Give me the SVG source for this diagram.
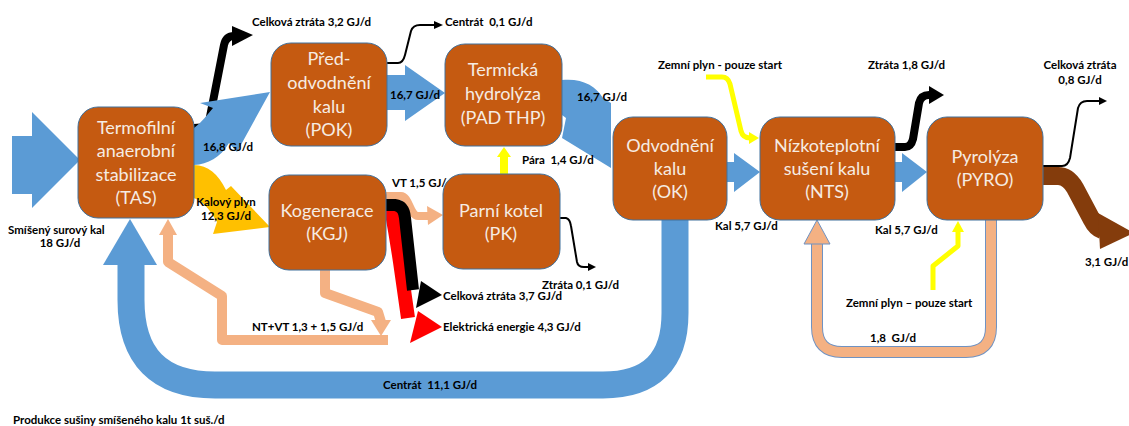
<svg xmlns="http://www.w3.org/2000/svg" width="1129" height="426" viewBox="0 0 1129 426">
<style>
.box{fill:#C55A11;stroke:#41719C;stroke-width:1}
.nt{font-family:Lato,"Liberation Sans",sans-serif;font-size:18px;fill:#F6ECE3;text-anchor:middle}
.lb{font-family:Lato,"Liberation Sans",sans-serif;font-size:11.5px;font-weight:bold;fill:#000}
.mid{text-anchor:middle}
.blue{fill:#5B9BD5}
.salm{fill:none;stroke:#F4B183;stroke-linejoin:round}
.salmf{fill:#F4B183}
.blk{fill:none;stroke:#000;stroke-linejoin:round}
.yel{fill:none;stroke:#FFFF00;stroke-width:5;stroke-linejoin:round}
.yelf{fill:#FFFF00}
</style>
<rect width="1129" height="426" fill="#fff"/>
<g id="connectors">
  <!-- input -->
  <polygon class="blue" points="12,136 32,136 32,112 80,160 32,208 32,194 12,194"/>
  <text class="lb" x="8" y="234">Smíšený surový kal</text>
  <text class="lb mid" x="60" y="247">18 GJ/d</text>

  <!-- TAS loss black -->
  <path class="blk" stroke-width="8" d="M194,128 L208,127 L224,45 Q226,36 234,36"/>
  <polygon points="232,26 253,35 232,46" fill="#000"/>
  <text class="lb" x="252" y="26">Celková ztráta 3,2 GJ/d</text>

  <!-- TAS -> POK -->
  <path class="blue" d="M194,128 C202,122 208,114 213,108 L200,103 L270,92 L237,152 L229,143 C220,158 208,164 194,165 Z"/>
  <text class="lb" x="203" y="151">16,8 GJ/d</text>

  <!-- TAS -> KGJ kalový plyn -->
  <path fill="#FFC000" d="M194,165 C208,165 218,174 226,190 L231,186 L270,227 L213,234 L217,222 C210,210 204,202 194,198 Z"/>
  <text class="lb mid" x="226" y="206">Kalový plyn</text>
  <text class="lb mid" x="226" y="220">12,3 GJ/d</text>

  <!-- POK centrat thin -->
  <path class="blk" stroke-width="2" d="M387,63 L398,63 Q403,63 405,55 L411,31 Q413,25 420,25 L436,25"/>
  <polygon points="434,21 443,25 434,29" fill="#000"/>
  <text class="lb" x="445" y="26" xml:space="preserve">Centrát  0,1 GJ/d</text>

  <!-- POK -> THP -->
  <polygon class="blue" points="387,75 405,75 405,65 445,93 405,121 405,110 387,110"/>
  <text class="lb" x="390" y="99">16,7 GJ/d</text>

  <!-- THP -> OK -->
  <path class="blue" d="M562,80 C582,78 596,86 603,98 L611,103 L611,168 L562,138 L566,118 L562,115 Z"/>
  <text class="lb" x="577" y="101">16,7 GJ/d</text>

  <!-- PK -> THP steam -->
  <rect class="yelf" x="500" y="156" width="8" height="18"/>
  <polygon class="yelf" points="497,157 511,157 504,147"/>
  <text class="lb" x="522" y="164" xml:space="preserve">Pára  1,4 GJ/d</text>

  <!-- KGJ -> PK VT -->
  <text class="lb" x="392" y="187">VT 1,5 GJ/d</text>
  <path class="salm" stroke-width="8" d="M386,196 L401,196 C409,196 410,216 418,216 L428,216"/>
  <polygon class="salmf" points="427,206 443,215 428,225"/>

  <!-- KGJ electric red -->
  <path fill="none" stroke="#FF0000" stroke-width="14" d="M391,208 Q396,235 400,262 L408,318"/>
  <polygon points="418,311 442,327 410,343" fill="#FF0000"/>
  <text class="lb" x="443" y="331">Elektrická energie 4,3 GJ/d</text>

  <!-- KGJ loss black -->
  <path class="blk" stroke-width="12" d="M386,205 L395,205 Q404,206 405,218 L413,290"/>
  <polygon points="421,281 442,295 416,308" fill="#000"/>
  <text class="lb" x="443" y="300">Celková ztráta 3,7 GJ/d</text>

  <!-- PK loss thin -->
  <path class="blk" stroke-width="2" d="M560,218 L566,218 Q570,219 571,226 L577,262 Q578,267 584,267 L589,267"/>
  <polygon points="588,263 596,267 588,271" fill="#000"/>
  <text class="lb" x="542" y="289">Ztráta 0,1 GJ/d</text>

  <!-- KGJ heat -> TAS -->
  <path class="salm" stroke-width="10" d="M325,270 L325,293 L378,312 L381,322"/>
  <polygon class="salmf" points="371,320 391,320 381,336"/>
  <path class="salm" stroke-width="10" d="M388,340 L222,340 L222,296 L168,262 L168,232"/>
  <polygon class="salmf" points="159,235 177,235 168,219"/>
  <text class="lb" x="252" y="331">NT+VT 1,3 + 1,5 GJ/d</text>

  <!-- Centrat return -->
  <path fill="none" stroke="#5B9BD5" stroke-width="27" d="M675,220 L675,313 Q675,385 603,385 L215,385 Q131,385 131,300 L131,262"/>
  <polygon class="blue" points="103,265 130,219 157,265"/>
  <text class="lb" x="383" y="389" xml:space="preserve">Centrát  11,1 GJ/d</text>

  <!-- OK -> NTS -->
  <polygon class="blue" points="727,162 734,162 734,153 760,172 734,192 734,182 727,182"/>
  <text class="lb" x="715" y="230">Kal 5,7 GJ/d</text>

  <!-- NTS -> PYRO -->
  <polygon class="blue" points="895,162 902,162 902,153 927,172 902,192 902,182 895,182"/>
  <text class="lb" x="875" y="234">Kal 5,7 GJ/d</text>

  <!-- gas to NTS -->
  <path class="yel" d="M706,77 L722,77 Q728,77 730,84 L741,131 Q743,138 750,138"/>
  <polygon class="yelf" points="749,132 759,138 749,144"/>
  <text class="lb" x="658" y="69">Zemní plyn - pouze start</text>

  <!-- NTS loss -->
  <path class="blk" stroke-width="8" d="M895,147 L905,147 Q911,147 913,139 L919,103 Q921,95 929,95"/>
  <polygon points="929,86 944,95 929,104" fill="#000"/>
  <text class="lb" x="868" y="69">Ztráta 1,8 GJ/d</text>

  <!-- PYRO loss thin -->
  <path class="blk" stroke-width="2" d="M1043,166 L1062,166 Q1068,166 1070,158 L1078,108 Q1080,101 1087,101 L1100,101"/>
  <polygon points="1099,97 1107,101 1099,105" fill="#000"/>
  <text class="lb mid" x="1080" y="69">Celková ztráta</text>
  <text class="lb mid" x="1080" y="84">0,8 GJ/d</text>

  <!-- PYRO product brown -->
  <path fill="none" stroke="#843C0C" stroke-width="18" stroke-linejoin="round" d="M1043,176 L1058,176 Q1068,176 1075,188 L1092,220 Q1096,228 1102,230"/>
  <polygon points="1098,213 1134,233 1100,249" fill="#843C0C"/>
  <text class="lb" x="1085" y="266">3,1 GJ/d</text>

  <!-- PYRO heat -> NTS loop -->
  <path fill="none" stroke="#6F92C2" stroke-width="12" stroke-linejoin="round" d="M991,220 L991,327 Q991,352 966,352 L842,352 Q817,352 817,327 L817,243"/>
  <path class="salm" stroke-width="10" d="M991,220 L991,327 Q991,352 966,352 L842,352 Q817,352 817,327 L817,243"/>
  <polygon points="804,244 817,220 830,244" fill="#F4B183" stroke="#6F92C2" stroke-width="1"/>
  <text class="lb" x="870" y="342" xml:space="preserve">1,8  GJ/d</text>

  <!-- gas to PYRO -->
  <path class="yel" d="M933,290 L933,266 L958,246 L958,230"/>
  <polygon class="yelf" points="952,232 958,221 964,232"/>
  <text class="lb" x="846" y="307">Zemní plyn – pouze start</text>

  <text class="lb" x="13" y="424">Produkce sušiny smíšeného kalu 1t suš./d</text>
</g>

<g id="TAS">
  <rect class="box" x="78" y="107" width="116" height="111" rx="20"/>
  <text class="nt" x="136" y="134">Termofilní</text>
  <text class="nt" x="136" y="157">anaerobní</text>
  <text class="nt" x="136" y="181">stabilizace</text>
  <text class="nt" x="136" y="204">(TAS)</text>
</g>
<g id="POK">
  <rect class="box" x="271" y="43" width="116" height="103" rx="20"/>
  <text class="nt" x="329" y="65">Před-</text>
  <text class="nt" x="329" y="89">odvodnění</text>
  <text class="nt" x="329" y="113">kalu</text>
  <text class="nt" x="329" y="136">(POK)</text>
</g>
<g id="THP">
  <rect class="box" x="445" y="44" width="117" height="102" rx="20"/>
  <text class="nt" x="503" y="76">Termická</text>
  <text class="nt" x="503" y="100">hydrolýza</text>
  <text class="nt" x="503" y="124">(PAD THP)</text>
</g>
<g id="KGJ">
  <rect class="box" x="269" y="175" width="117" height="95" rx="20"/>
  <text class="nt" x="327" y="217">Kogenerace</text>
  <text class="nt" x="327" y="240">(KGJ)</text>
</g>
<g id="PK">
  <rect class="box" x="443" y="174" width="117" height="95" rx="20"/>
  <text class="nt" x="501" y="217">Parní kotel</text>
  <text class="nt" x="501" y="240">(PK)</text>
</g>
<g id="OK">
  <rect class="box" x="613" y="117" width="114" height="103" rx="20"/>
  <text class="nt" x="670" y="152">Odvodnění</text>
  <text class="nt" x="670" y="175">kalu</text>
  <text class="nt" x="670" y="198">(OK)</text>
</g>
<g id="NTS">
  <rect class="box" x="760" y="117" width="135" height="103" rx="20"/>
  <text class="nt" x="827" y="152">Nízkoteplotní</text>
  <text class="nt" x="827" y="175">sušení kalu</text>
  <text class="nt" x="827" y="198">(NTS)</text>
</g>
<g id="PYRO">
  <rect class="box" x="927" y="117" width="116" height="103" rx="20"/>
  <text class="nt" x="985" y="163">Pyrolýza</text>
  <text class="nt" x="985" y="186">(PYRO)</text>
</g>
</svg>
